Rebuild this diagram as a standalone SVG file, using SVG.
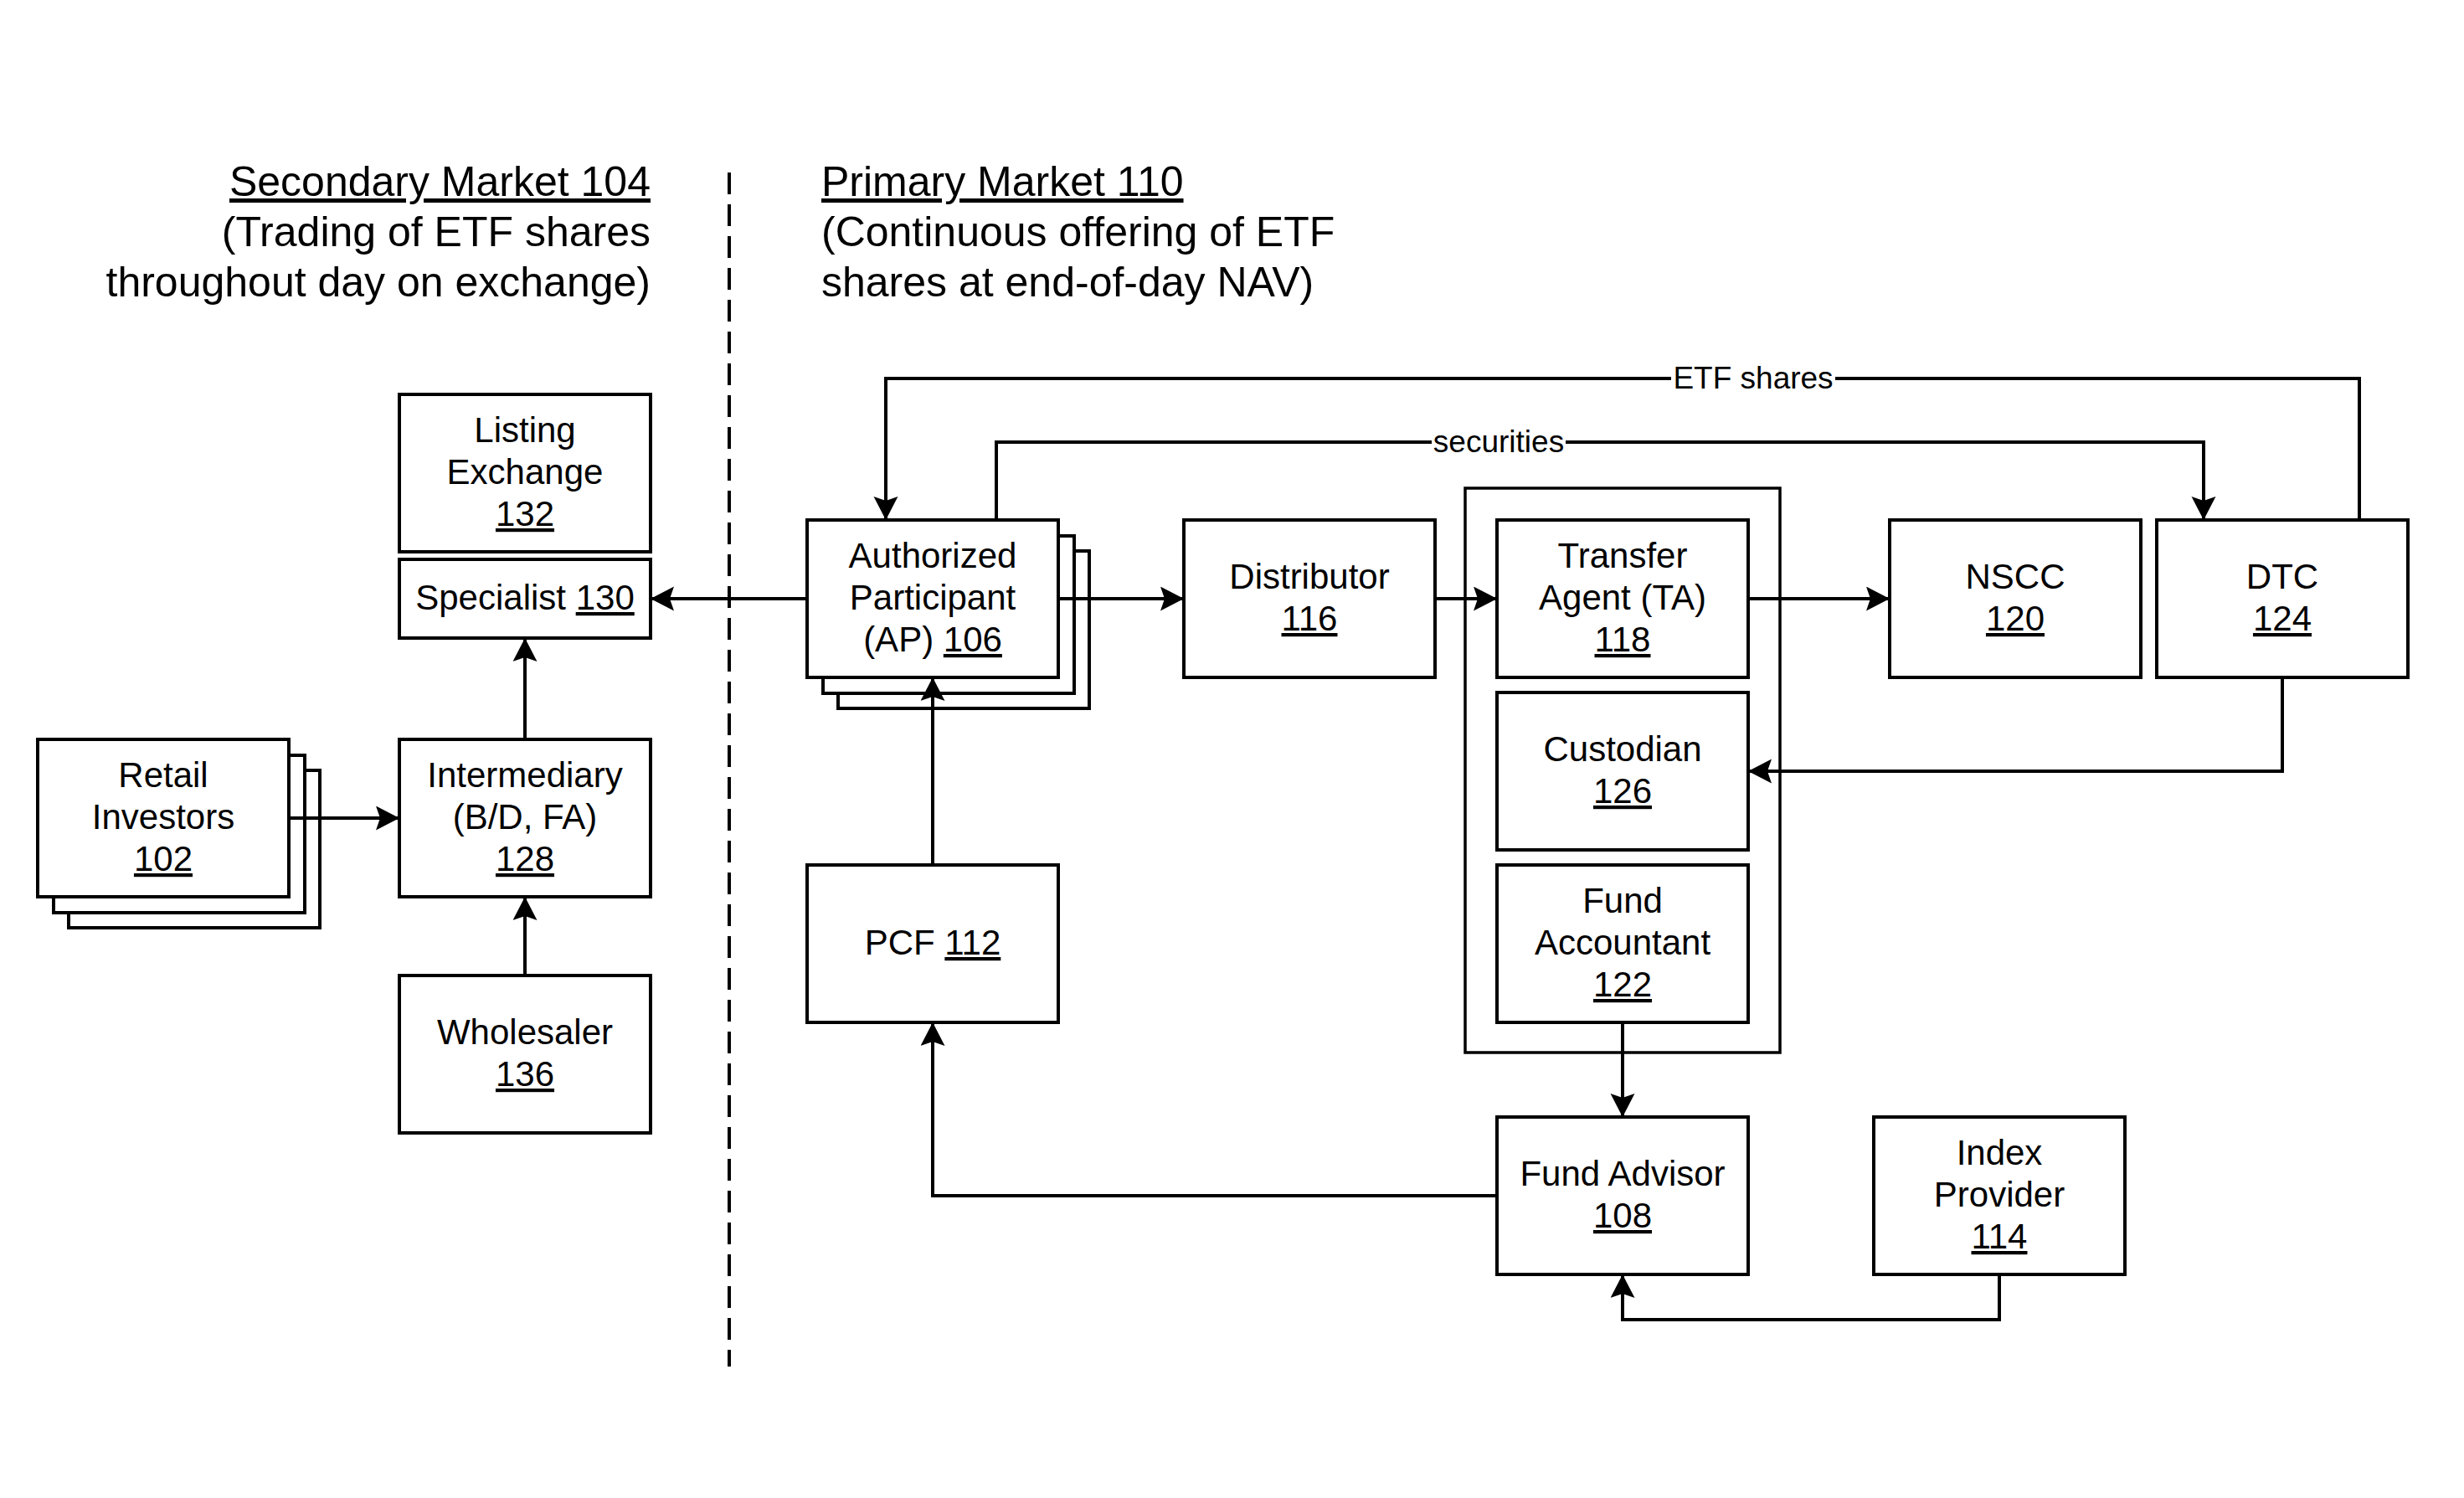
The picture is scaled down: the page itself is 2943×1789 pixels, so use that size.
<svg xmlns="http://www.w3.org/2000/svg" width="2943" height="1789" viewBox="0 0 2943 1789">
<style>
.box{fill:#fff;stroke:#000;stroke-width:4}
.cont{fill:none;stroke:#000;stroke-width:3.5}
.t{font-family:"Liberation Sans",Arial,sans-serif;font-size:42px;fill:#000;text-anchor:middle}
.h{font-family:"Liberation Sans",Arial,sans-serif;font-size:50px;fill:#000}
.lbl{font-family:"Liberation Sans",Arial,sans-serif;font-size:37px;fill:#000;text-anchor:middle}
.u{text-decoration:underline}
.c{fill:none;stroke:#000;stroke-width:4}
.arr{marker-end:url(#ah)}
</style>
<defs>
<marker id="ah" markerUnits="userSpaceOnUse" markerWidth="29" markerHeight="30" refX="28" refY="14.5" orient="auto" viewBox="0 0 29 30">
<path d="M0,0 L28,14.5 L0,29 L5,14.5 z" fill="#000"/>
</marker>
</defs>
<rect width="2943" height="1789" fill="#fff"/>

<g id="headers">
<text class="h" x="777" y="234" text-anchor="end"><tspan class="u">Secondary Market 104</tspan></text>
<text class="h" x="777" y="294" text-anchor="end">(Trading of ETF shares</text>
<text class="h" x="777" y="354" text-anchor="end">throughout day on exchange)</text>
<text class="h" x="981" y="234"><tspan class="u">Primary Market 110</tspan></text>
<text class="h" x="981" y="294">(Continuous offering of ETF</text>
<text class="h" x="981" y="354">shares at end-of-day NAV)</text>
</g>

<g id="divider">
<line x1="871" y1="206" x2="871" y2="1632" stroke="#000" stroke-width="4" stroke-dasharray="26 12"/>
</g>

<g id="listing-exchange-132">
<rect class="box" x="477" y="471" width="300" height="188"/>
<text class="t" x="627" y="528">Listing</text>
<text class="t" x="627" y="578">Exchange</text>
<text class="t" x="627" y="628"><tspan class="u">132</tspan></text>
</g>

<g id="specialist-130">
<rect class="box" x="477" y="668" width="300" height="94"/>
<text class="t" x="627" y="728">Specialist <tspan class="u">130</tspan></text>
</g>

<g id="retail-investors-102">
<rect class="box" x="82" y="920" width="300" height="188"/>
<rect class="box" x="64" y="902" width="300" height="188"/>
<rect class="box" x="45" y="883" width="300" height="188"/>
<text class="t" x="195" y="940">Retail</text>
<text class="t" x="195" y="990">Investors</text>
<text class="t" x="195" y="1040"><tspan class="u">102</tspan></text>
</g>

<g id="intermediary-128">
<rect class="box" x="477" y="883" width="300" height="188"/>
<text class="t" x="627" y="940">Intermediary</text>
<text class="t" x="627" y="990">(B/D, FA)</text>
<text class="t" x="627" y="1040"><tspan class="u">128</tspan></text>
</g>

<g id="wholesaler-136">
<rect class="box" x="477" y="1165" width="300" height="188"/>
<text class="t" x="627" y="1247">Wholesaler</text>
<text class="t" x="627" y="1297"><tspan class="u">136</tspan></text>
</g>

<g id="authorized-participant-106">
<rect class="box" x="1001" y="658" width="300" height="188"/>
<rect class="box" x="983" y="640" width="300" height="188"/>
<rect class="box" x="964" y="621" width="300" height="188"/>
<text class="t" x="1114" y="678">Authorized</text>
<text class="t" x="1114" y="728">Participant</text>
<text class="t" x="1114" y="778">(AP) <tspan class="u">106</tspan></text>
</g>

<g id="distributor-116">
<rect class="box" x="1414" y="621" width="300" height="188"/>
<text class="t" x="1564" y="703">Distributor</text>
<text class="t" x="1564" y="753"><tspan class="u">116</tspan></text>
</g>

<g id="fund-services">
<rect class="cont" x="1750" y="583" width="376" height="674"/>
</g>

<g id="transfer-agent-118">
<rect class="box" x="1788" y="621" width="300" height="188"/>
<text class="t" x="1938" y="678">Transfer</text>
<text class="t" x="1938" y="728">Agent (TA)</text>
<text class="t" x="1938" y="778"><tspan class="u">118</tspan></text>
</g>

<g id="custodian-126">
<rect class="box" x="1788" y="827" width="300" height="188"/>
<text class="t" x="1938" y="909">Custodian</text>
<text class="t" x="1938" y="959"><tspan class="u">126</tspan></text>
</g>

<g id="fund-accountant-122">
<rect class="box" x="1788" y="1033" width="300" height="188"/>
<text class="t" x="1938" y="1090">Fund</text>
<text class="t" x="1938" y="1140">Accountant</text>
<text class="t" x="1938" y="1190"><tspan class="u">122</tspan></text>
</g>

<g id="nscc-120">
<rect class="box" x="2257" y="621" width="300" height="188"/>
<text class="t" x="2407" y="703">NSCC</text>
<text class="t" x="2407" y="753"><tspan class="u">120</tspan></text>
</g>

<g id="dtc-124">
<rect class="box" x="2576" y="621" width="300" height="188"/>
<text class="t" x="2726" y="703">DTC</text>
<text class="t" x="2726" y="753"><tspan class="u">124</tspan></text>
</g>

<g id="pcf-112">
<rect class="box" x="964" y="1033" width="300" height="188"/>
<text class="t" x="1114" y="1140">PCF <tspan class="u">112</tspan></text>
</g>

<g id="fund-advisor-108">
<rect class="box" x="1788" y="1334" width="300" height="188"/>
<text class="t" x="1938" y="1416">Fund Advisor</text>
<text class="t" x="1938" y="1466"><tspan class="u">108</tspan></text>
</g>

<g id="index-provider-114">
<rect class="box" x="2238" y="1334" width="300" height="188"/>
<text class="t" x="2388" y="1391">Index</text>
<text class="t" x="2388" y="1441">Provider</text>
<text class="t" x="2388" y="1491"><tspan class="u">114</tspan></text>
</g>

<g id="connectors">
<path class="c arr" d="M964,715 H777"/>
<path class="c arr" d="M1264,715 H1414"/>
<path class="c arr" d="M1714,715 H1788"/>
<path class="c arr" d="M2088,715 H2257"/>
<path class="c arr" d="M2726,809 V921 H2088"/>
<path class="c arr" d="M2818,621 V452 H1058 V621"/>
<path class="c arr" d="M1190,621 V528 H2632 V621"/>
<path class="c arr" d="M345,977 H477"/>
<path class="c arr" d="M627,883 V762"/>
<path class="c arr" d="M627,1165 V1071"/>
<path class="c arr" d="M1114,1033 V809"/>
<path class="c arr" d="M1938,1221 V1334"/>
<path class="c arr" d="M1788,1428 H1114 V1221"/>
<path class="c arr" d="M2388,1522 V1576 H1938 V1522"/>
<rect x="1996" y="430" width="196" height="44" fill="#fff"/>
<text class="lbl" x="2094" y="464">ETF shares</text>
<rect x="1710" y="506" width="160" height="44" fill="#fff"/>
<text class="lbl" x="1790" y="540">securities</text>
</g>
</svg>
